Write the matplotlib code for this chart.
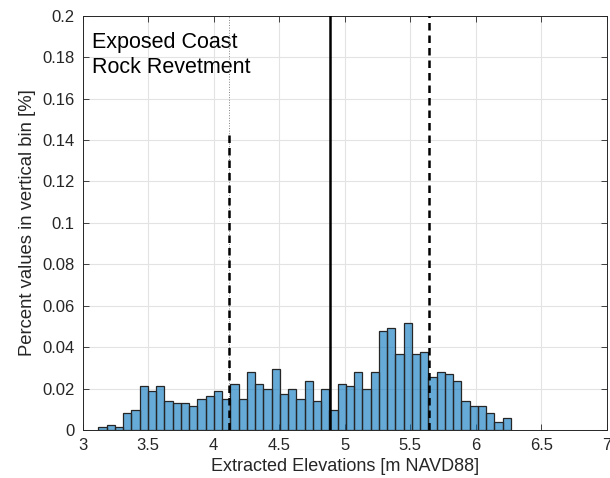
import numpy as np
import matplotlib
matplotlib.use("Agg")
import matplotlib.pyplot as plt

plt.rcParams['font.family'] = ['Liberation Sans', 'DejaVu Sans']

# histogram of extracted elevations (percent per vertical bin)
bin_start = 3.119
bin_width = 0.063
percent = [0.0013, 0.0024, 0.0013, 0.0083, 0.0096, 0.0211, 0.0187, 0.0211, 0.0141, 0.0128,
           0.0128, 0.0117, 0.0152, 0.0165, 0.0187, 0.0152, 0.0224, 0.0152, 0.0282, 0.0224,
           0.0200, 0.0293, 0.0176, 0.0200, 0.0152, 0.0235, 0.0141, 0.0200, 0.0096, 0.0224,
           0.0211, 0.0282, 0.0200, 0.0282, 0.0480, 0.0491, 0.0365, 0.0515, 0.0365, 0.0376,
           0.0256, 0.0282, 0.0270, 0.0235, 0.0141, 0.0118, 0.0118, 0.0083, 0.0037, 0.0059]

# reference lines
median_elev = 4.888
lower_elev = 4.119
upper_elev = 5.644
lower_dash_top = 0.1436

x_ticks = [3, 3.5, 4, 4.5, 5, 5.5, 6, 6.5, 7]
y_ticks = [0, 0.02, 0.04, 0.06, 0.08, 0.1, 0.12, 0.14, 0.16, 0.18, 0.2]
y_ticklabels = ['0', '0.02', '0.04', '0.06', '0.08', '0.1', '0.12', '0.14', '0.16', '0.18', '0.2']

fig = plt.figure(figsize=(6.1, 4.78), dpi=100)
ax = fig.add_axes([0.1356, 0.1004, 0.859, 0.8666])

left_edges = bin_start + bin_width * np.arange(len(percent))
ax.bar(left_edges, percent, width=bin_width, align='edge',
       color='#0072BD', alpha=0.6, edgecolor='none', zorder=2)
ax.bar(left_edges, percent, width=bin_width, align='edge',
       facecolor='none', edgecolor='#262626', linewidth=0.9, zorder=3)

ax.plot([median_elev, median_elev], [0, 0.2], color='black', linewidth=1.8, zorder=4)
ax.plot([lower_elev, lower_elev], [0, 0.2], color='#808080', linewidth=0.7,
        linestyle=':', zorder=4)
ax.plot([lower_elev, lower_elev], [0, lower_dash_top], color='black', linewidth=1.8,
        linestyle=(0, (3, 2)), zorder=5)
ax.plot([upper_elev, upper_elev], [0, 0.2], color='black', linewidth=1.8,
        linestyle=(0, (3, 2)), zorder=5)

ax.set_xlim(3, 7)
ax.set_ylim(0, 0.2)
ax.set_xticks(x_ticks)
ax.set_xticklabels([f'{t:g}' for t in x_ticks])
ax.set_yticks(y_ticks)
ax.set_yticklabels(y_ticklabels)
ax.tick_params(direction='in', length=4, width=0.6, color='#262626',
               labelsize=12, labelcolor='#262626', top=True, right=True, pad=6)
ax.grid(True, color='#e3e3e3', linewidth=0.8, zorder=0)
ax.set_axisbelow(True)
for sp in ax.spines.values():
    sp.set_color('#262626')
    sp.set_linewidth(0.7)

ax.set_xlabel('Extracted Elevations [m NAVD88]', fontsize=13, color='#262626', labelpad=3)
ax.set_ylabel('Percent values in vertical bin [%]', fontsize=13.3, color='#262626', labelpad=4)

ax.text(0.018, 0.96, 'Exposed Coast\nRock Revetment', transform=ax.transAxes,
        fontsize=15.5, va='top', ha='left', color='black', linespacing=1.2)

fig.savefig('out.png', dpi=100)
